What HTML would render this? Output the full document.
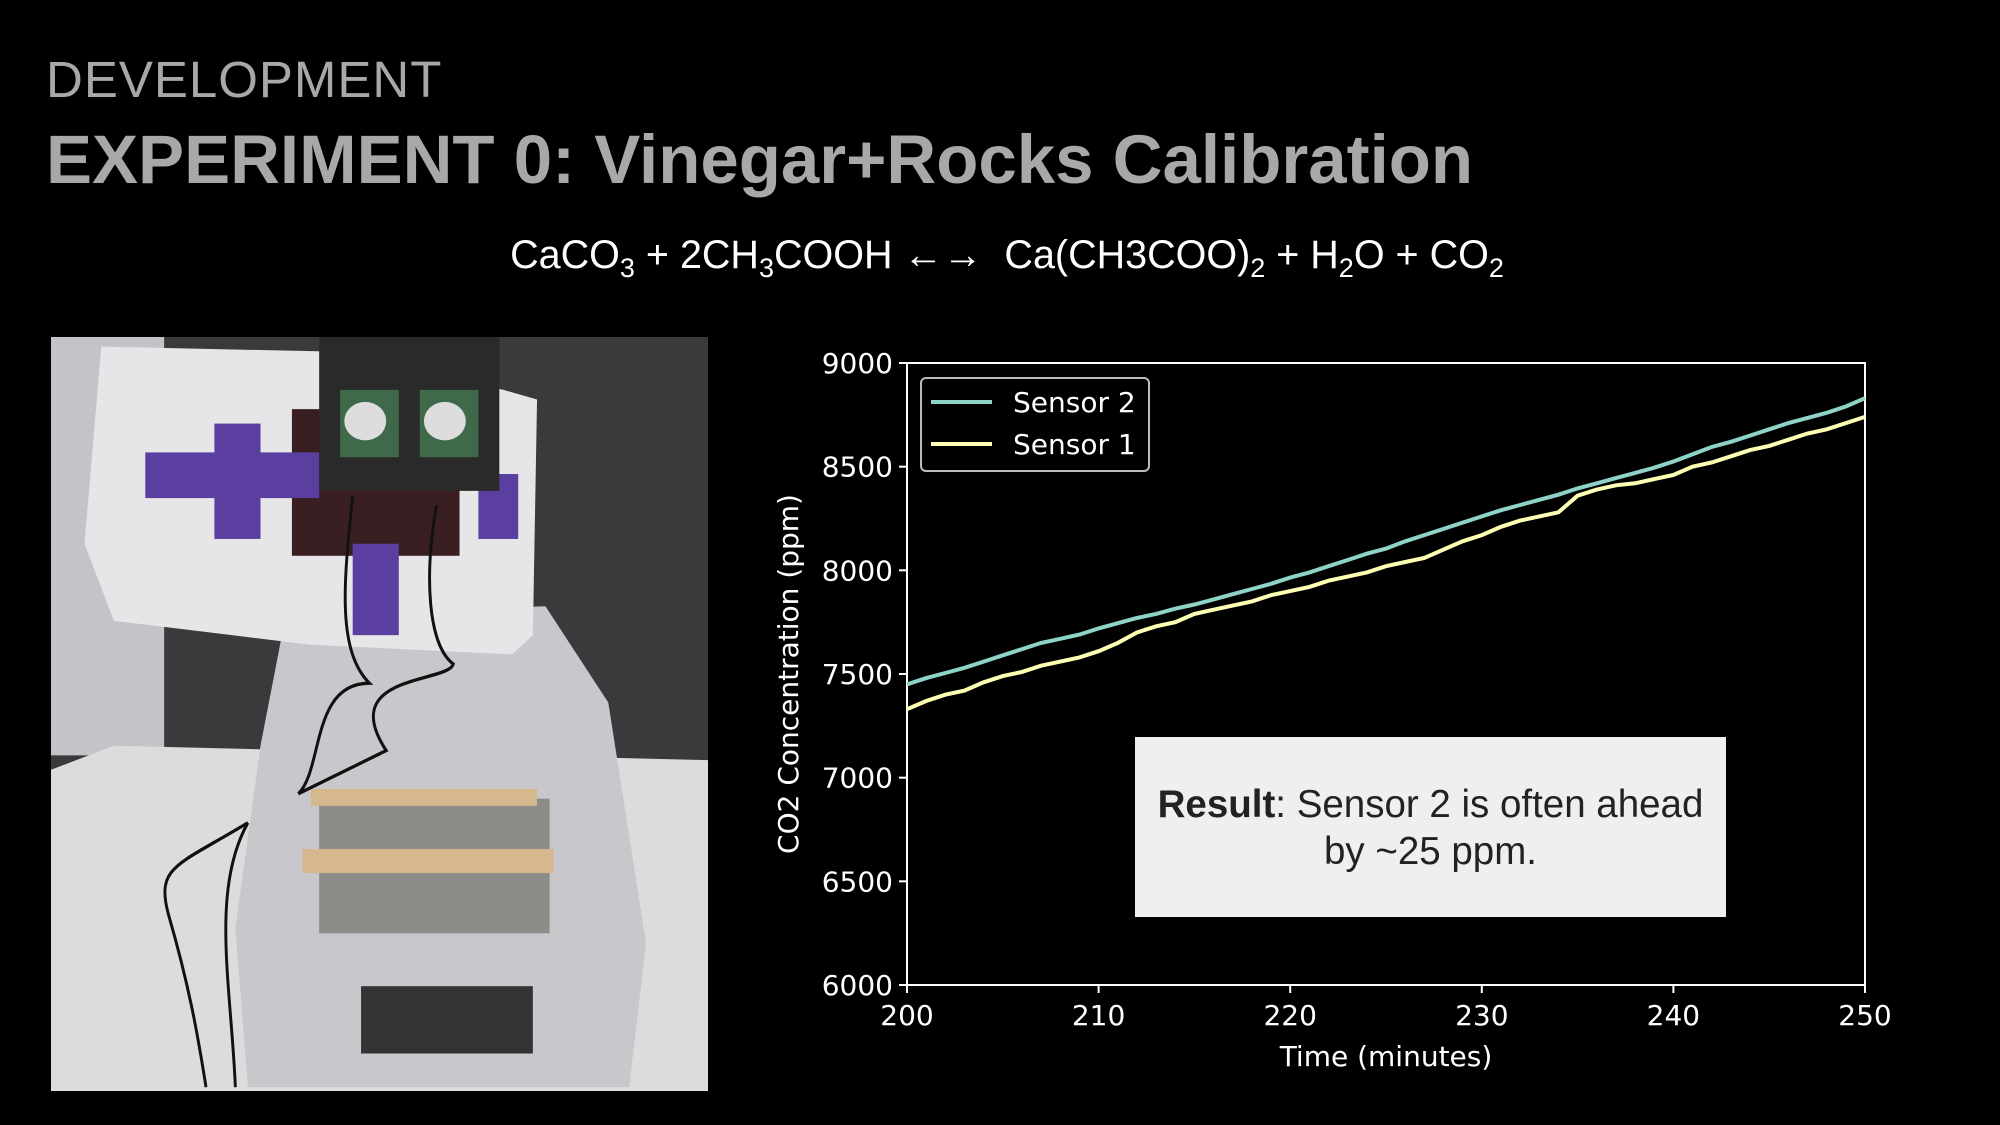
<!DOCTYPE html>
<html><head><meta charset="utf-8"><style>
body{margin:0;background:#000;width:2000px;height:1125px;overflow:hidden;position:relative;font-family:"Liberation Sans",sans-serif}
.abs{position:absolute}
</style></head><body>
<div class="abs" style="left:46px;top:50px;font-size:51px;color:#a8a8a8;letter-spacing:1px;font-weight:300">DEVELOPMENT</div>
<div class="abs" style="left:46px;top:120px;font-size:69px;color:#a8a8a8;font-weight:bold">EXPERIMENT 0: Vinegar+Rocks Calibration</div>
<div class="abs" style="left:0;width:2014px;text-align:center;top:233px;font-size:39.5px;color:#fff">CaCO<sub style="font-size:27px">3</sub> + 2CH<sub style="font-size:27px">3</sub>COOH ←→&nbsp; Ca(CH3COO)<sub style="font-size:27px">2</sub> + H<sub style="font-size:27px">2</sub>O + CO<sub style="font-size:27px">2</sub></div>

<svg class="abs" style="left:51px;top:337px" width="657" height="754" viewBox="0 0 1568 1568" preserveAspectRatio="none">
<rect width="1568" height="1568" fill="#3a3a3c"/>
<rect x="0" y="0" width="270" height="870" fill="#c4c4c8"/>
<polygon points="0,900 150,850 1568,880 1568,1568 0,1568" fill="#dcdcdc"/>
<polygon points="560,580 1180,560 1330,760 1420,1260 1380,1560 470,1560 440,1230 500,850" fill="#c8c8cc"/>
<rect x="640" y="960" width="550" height="280" fill="#8c8c88"/>
<rect x="620" y="940" width="540" height="35" fill="#d6b88e"/>
<rect x="600" y="1065" width="600" height="50" fill="#d6b88e"/>
<rect x="740" y="1350" width="410" height="140" fill="#333"/>
<polygon points="120,20 650,30 1080,110 1160,130 1150,620 1100,660 620,640 150,590 80,430" fill="#e6e6e8"/>
<rect x="575" y="150" width="400" height="305" fill="#3a1f22"/>
<rect x="225" y="240" width="415" height="95" fill="#5a3fa0"/>
<rect x="390" y="180" width="110" height="240" fill="#5a3fa0"/>
<rect x="720" y="430" width="110" height="190" fill="#5a3fa0"/>
<rect x="1020" y="285" width="95" height="135" fill="#5a3fa0"/>
<rect x="640" y="0" width="430" height="320" fill="#2a2a2a"/>
<rect x="690" y="110" width="140" height="140" fill="#3f6a4a"/>
<rect x="880" y="110" width="140" height="140" fill="#3f6a4a"/>
<ellipse cx="750" cy="175" rx="50" ry="40" fill="#ddd"/>
<ellipse cx="940" cy="175" rx="50" ry="40" fill="#ddd"/>
<path d="M720,330 C700,500 680,650 760,720 C620,720 650,900 590,950 M920,350 C890,500 900,640 960,680 C950,720 680,700 800,860 L590,950 M470,1010 C300,1100 250,1100 280,1200 C330,1350 350,1450 370,1560 M470,1010 C380,1150 430,1350 440,1560" stroke="#111" stroke-width="7" fill="none"/>
</svg>

<svg class="abs" style="left:0;top:0" width="2000" height="1125" id="chart"></svg>

<div class="abs" style="left:1135px;top:737px;width:591px;height:180px;background:#efefef;color:#222;font-size:38.5px;text-align:center;box-sizing:border-box;padding-top:44px;line-height:47px"><b>Result</b>: Sensor 2 is often ahead<br>by ~25 ppm.</div>

<script>
const times=[200,201,202,203,204,205,206,207,208,209,210,211,212,213,214,215,216,217,218,219,220,221,222,223,224,225,226,227,228,229,230,231,232,233,234,235,236,237,238,239,240,241,242,243,244,245,246,247,248,249,250];
const sensor2=[7450,7480,7505,7530,7560,7590,7620,7650,7670,7690,7720,7745,7770,7790,7815,7835,7860,7885,7910,7935,7965,7990,8020,8050,8080,8105,8140,8170,8200,8230,8260,8290,8315,8340,8365,8395,8420,8445,8470,8495,8525,8560,8595,8620,8650,8680,8710,8735,8760,8790,8830];
const sensor1=[7330,7370,7400,7420,7460,7490,7510,7540,7560,7580,7610,7650,7700,7730,7750,7790,7810,7830,7850,7880,7900,7920,7950,7970,7990,8020,8040,8060,8100,8140,8170,8210,8240,8260,8280,8360,8390,8410,8420,8440,8460,8500,8520,8550,8580,8600,8630,8660,8680,8710,8740];
const xTicks=[200,210,220,230,240,250];
const yTicks=[6000,6500,7000,7500,8000,8500,9000];
const L=907,R=1865,T=363,B=985;
const xs=v=>L+(v-200)/50*(R-L);
const ys=v=>B-(v-6000)/3000*(B-T);
const svg=document.getElementById('chart');
const NS='http://www.w3.org/2000/svg';
function mk(tag,attrs,parent){const e=document.createElementNS(NS,tag);for(const k in attrs)e.setAttribute(k,attrs[k]);(parent||svg).appendChild(e);return e;}
const frame=mk('rect',{x:L,y:T,width:R-L,height:B-T,fill:'none',stroke:'#fff','stroke-width':2});


xTicks.forEach(t=>{
  const ln=mk('line',{x1:xs(t),x2:xs(t),y1:B,y2:B+8,stroke:'#fff','stroke-width':2});
  
  
  const tx=mk('text',{x:xs(t),y:B+40,fill:'#fff','font-size':28,'text-anchor':'middle','font-family':'DejaVu Sans, sans-serif'});
  tx.textContent=t;
  
  
});
yTicks.forEach(t=>{
  const ln=mk('line',{x1:L-8,x2:L,y1:ys(t),y2:ys(t),stroke:'#fff','stroke-width':2});
  
  
  const tx=mk('text',{x:L-14,y:ys(t)+10,fill:'#fff','font-size':28,'text-anchor':'end','font-family':'DejaVu Sans, sans-serif'});
  tx.textContent=t;
  
  
});
const xl=mk('text',{x:(L+R)/2,y:1066,fill:'#fff','font-size':28,'text-anchor':'middle','font-family':'DejaVu Sans, sans-serif'});
xl.textContent='Time (minutes)';


const yl=mk('text',{x:0,y:0,fill:'#fff','font-size':28,'text-anchor':'middle','font-family':'DejaVu Sans, sans-serif',transform:'translate(798,674) rotate(-90)'});
yl.textContent='CO2 Concentration (ppm)';


function line(vals,color,name){
  const d=vals.map((v,i)=>(i?'L':'M')+xs(times[i]).toFixed(1)+','+ys(v).toFixed(1)).join(' ');
  const p=mk('path',{d:d,fill:'none',stroke:color,'stroke-width':4});
  
  
}
line(sensor1,'#ffffb3','sensor-1-line');
line(sensor2,'#8dd3c7','sensor-2-line');
const lg=mk('rect',{x:921,y:378,width:228,height:93,rx:5,fill:'#000',stroke:'#bbb','stroke-width':2});


[['Sensor 2','#8dd3c7',402],['Sensor 1','#ffffb3',444]].forEach(([n,c,y])=>{
  const ln=mk('line',{x1:931,x2:992,y1:y,y2:y,stroke:c,'stroke-width':4});
  
  
  const tx=mk('text',{x:1013,y:y+10,fill:'#fff','font-size':28,'font-family':'DejaVu Sans, sans-serif'});
  tx.textContent=n;
  
  
});
</script>
</body></html>
